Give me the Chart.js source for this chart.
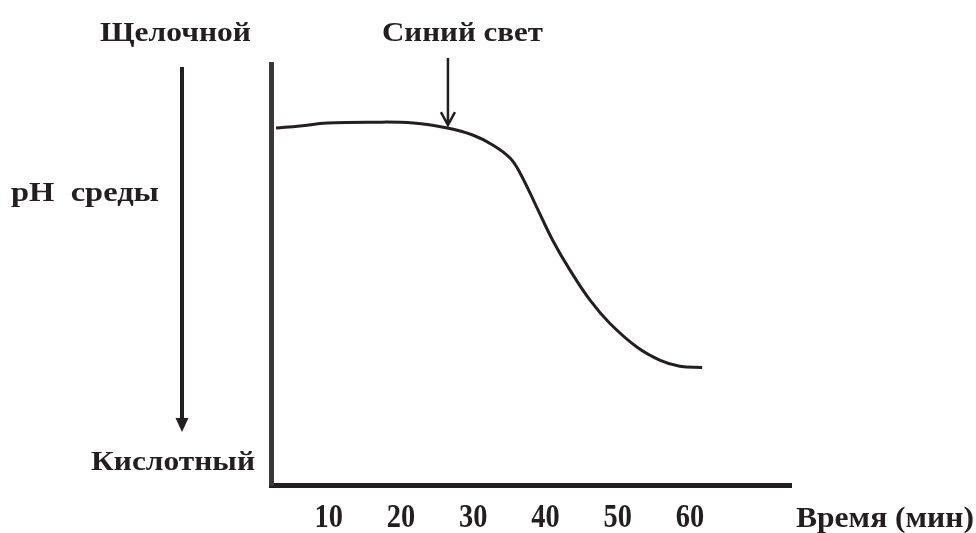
<!DOCTYPE html>
<html>
<head>
<meta charset="utf-8">
<script src="https://cdn.jsdelivr.net/npm/chart.js@4"></script>
<style>
  html, body { margin: 0; padding: 0; background: #fff; }
</style>
</head>
<body>
<canvas id="phChart" width="976" height="533"></canvas>
<script>
// pH of the medium vs time, blue light switched on at ~26 min
const timeMin = [2.7, 6, 9.8, 16.1, 21.7, 26.4, 30, 32.7, 35.1, 36.5, 38.8, 41, 43.4, 46.2, 48.9, 52.7, 55.9, 58.6, 61.7];
const phLevel = [8.48, 8.53, 8.6, 8.62, 8.6, 8.48, 8.31, 8.08, 7.77, 7.41, 6.6, 5.82, 5.11, 4.39, 3.85, 3.28, 2.97, 2.83, 2.8];
const tickMinutes = [10, 20, 30, 40, 50, 60];
const lightOnMin = 26.5;
const lightOnPh = 8.55;

const INK = '#231f20';
const SERIF = '"Liberation Serif", "Times New Roman", serif';

// draws bold serif text squeezed/stretched to a given width
function fitText(ctx, text, left, baseline, width, size) {
    ctx.font = `bold ${size}px ${SERIF}`;
    const w = ctx.measureText(text).width;
    ctx.save();
    ctx.translate(left, baseline);
    ctx.scale(width / w, 1);
    ctx.textBaseline = 'alphabetic';
    ctx.textAlign = 'left';
    ctx.fillText(text, 0, 0);
    ctx.restore();
}

const labelsPlugin = {
    id: 'phLabels',
    afterDraw(chart) {
        const { ctx } = chart;
        const x = chart.scales.x;
        const y = chart.scales.y;
        ctx.save();
        ctx.fillStyle = INK;
        ctx.strokeStyle = INK;

        // left arrow: alkaline -> acidic
        ctx.lineWidth = 4;
        ctx.beginPath();
        ctx.moveTo(182, 67);
        ctx.lineTo(182, 420);
        ctx.stroke();
        ctx.beginPath();
        ctx.moveTo(175.5, 418);
        ctx.lineTo(188.5, 418);
        ctx.lineTo(182, 432);
        ctx.closePath();
        ctx.fill();

        fitText(ctx, 'Щелочной', 100, 41, 151, 28);
        fitText(ctx, 'pH  среды', 11, 201, 148, 27);
        fitText(ctx, 'Кислотный', 91, 470, 164, 28);
        fitText(ctx, 'Время (мин)', 796, 527, 178, 29);

        // minute labels, condensed like the original
        tickMinutes.forEach(v => {
            const label = String(v);
            ctx.font = `bold 33px ${SERIF}`;
            const w = ctx.measureText(label).width * 0.86;
            fitText(ctx, label, x.getPixelForValue(v) - w / 2, 527, w, 33);
        });

        // blue light marker
        const ax = x.getPixelForValue(lightOnMin);
        const tip = y.getPixelForValue(lightOnPh);
        ctx.lineWidth = 2.5;
        ctx.beginPath();
        ctx.moveTo(ax, 58);
        ctx.lineTo(ax, tip);
        ctx.moveTo(ax - 7, tip - 13);
        ctx.lineTo(ax, tip);
        ctx.lineTo(ax + 7, tip - 13);
        ctx.stroke();
        fitText(ctx, 'Синий свет', ax - 66, 41, 161, 28);

        ctx.restore();
    }
};

new Chart(document.getElementById('phChart'), {
    type: 'scatter',
    data: {
        datasets: [{
            data: timeMin.map((t, i) => ({ x: t, y: phLevel[i] })),
            showLine: true,
            borderColor: INK,
            borderWidth: 3,
            pointRadius: 0,
            tension: 0.4,
            fill: false
        }]
    },
    options: {
        responsive: false,
        animation: false,
        devicePixelRatio: 1,
        layout: { padding: { left: 271, right: 185, top: 64, bottom: 47.5 } },
        plugins: {
            legend: { display: false },
            tooltip: { enabled: false }
        },
        scales: {
            x: {
                type: 'linear',
                min: 2,
                max: 74,
                afterBuildTicks: (scale) => {
                    scale.ticks = tickMinutes.map(v => ({ value: v }));
                },
                ticks: { display: false },
                grid: { display: false, drawTicks: false },
                border: { display: true, width: 5, color: INK }
            },
            y: {
                min: 0,
                max: 10,
                ticks: { display: false },
                grid: { display: false, drawTicks: false },
                border: { display: true, width: 5, color: '#3b3835' }
            }
        }
    },
    plugins: [labelsPlugin]
});
</script>
</body>
</html>
